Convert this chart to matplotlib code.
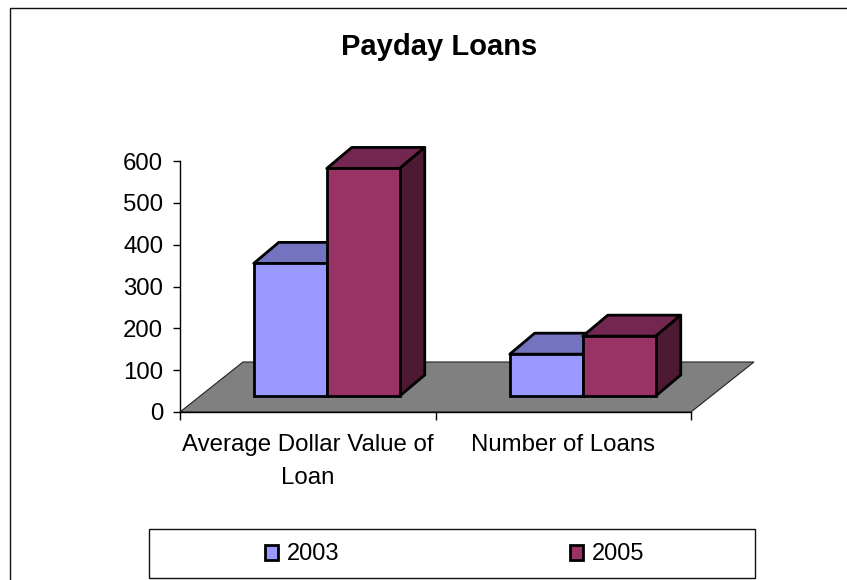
import matplotlib.pyplot as plt
from matplotlib.patches import Polygon, Rectangle

plt.rcParams['font.family'] = ['Liberation Sans', 'DejaVu Sans']

categories = ['Average Dollar Value of\nLoan', 'Number of Loans']
years = ['2003', '2005']
values_2003 = [317, 100]
values_2005 = [544, 143]
y_ticks = [0, 100, 200, 300, 400, 500, 600]

front_colors = ['#9999FF', '#993366']
top_colors = ['#7373BF', '#732650']
side_colors = ['#4D4D80', '#4D1933']

W, H = 847, 580
fig = plt.figure(figsize=(W / 100, H / 100), dpi=100)

# plot area, in pixels from the top left corner
left, right, top, bottom = 180, 691, 161, 412
ax = fig.add_axes([left / W, 1 - bottom / H, (right - left) / W, (bottom - top) / H])
ax.set_xlim(0, 2)
ax.set_ylim(0, 600)
ax.patch.set_visible(False)

# oblique projection: depth expressed in axis units
px_x = 2 / (right - left)
px_y = 600 / (bottom - top)
floor_dx, floor_dy = 63 * px_x, 50 * px_y
bar_dx, bar_dy = 25 * px_x, 21 * px_y
base_dy = 16 * px_y
group_shift = [19 * px_x, 19.5 * px_x]
bar_w = 73 * px_x
edge_lw = 2.0

ax.add_patch(Polygon([(0, 0), (floor_dx, floor_dy), (2 + floor_dx, floor_dy), (2, 0)],
                     closed=True, facecolor='#808080', edgecolor='#222222', lw=0.8,
                     clip_on=False, zorder=1))


def draw_bar(x, value, i, z):
    # x is the left edge of the front face, b the front base height
    b = base_dy
    x2 = x + bar_w
    t = b + value
    ax.bar(x, value, width=bar_w, bottom=b, align='edge', color=front_colors[i],
           edgecolor='black', linewidth=edge_lw, clip_on=False, zorder=z + 1)
    ax.add_patch(Polygon([(x, t), (x + bar_dx, t + bar_dy), (x2 + bar_dx, t + bar_dy), (x2, t)],
                         closed=True, facecolor=top_colors[i], edgecolor='black', lw=edge_lw,
                         joinstyle='round', clip_on=False, zorder=z))
    ax.add_patch(Polygon([(x2, b), (x2 + bar_dx, b + bar_dy), (x2 + bar_dx, t + bar_dy), (x2, t)],
                         closed=True, facecolor=side_colors[i], edgecolor='black', lw=edge_lw,
                         joinstyle='round', clip_on=False, zorder=z))


for c, (v1, v2) in enumerate(zip(values_2003, values_2005)):
    center = c + 0.5 + group_shift[c]
    draw_bar(center - bar_w, v1, 0, 2 + 4 * c)
    draw_bar(center, v2, 1, 4 + 4 * c)

for s in ['top', 'right']:
    ax.spines[s].set_visible(False)
for s in ['left', 'bottom']:
    ax.spines[s].set_linewidth(1.0)
    ax.spines[s].set_zorder(1.5)

ax.set_yticks(y_ticks)
ax.tick_params(axis='y', length=5, width=1, pad=7, labelsize=17.3)
ax.set_xticks([0, 1, 2])
ax.set_xticklabels([])
ax.tick_params(axis='x', which='major', length=6, width=1)
ax.set_xticks([0.5, 1.5], minor=True)
ax.set_xticklabels(categories, minor=True, fontsize=17.3, linespacing=1.65, ha='center')
ax.tick_params(axis='x', which='minor', length=0, pad=16)

# outer chart border runs off the right and bottom edges
fig.add_artist(Rectangle((10 / W, -0.02), 1.02, 1.02 - 8 / H, transform=fig.transFigure,
                         fill=False, edgecolor='#111111', lw=1.0))
fig.text(439 / W, 1 - 47 / H, 'Payday Loans', fontsize=21, fontweight='bold',
         ha='center', va='center')

# legend box
fig.add_artist(Rectangle((149 / W, 1 - 578 / H), 606 / W, 49 / H, transform=fig.transFigure,
                         facecolor='white', edgecolor='#111111', lw=1.0))
for i, (mx, tx) in enumerate([(265, 287), (570, 592)]):
    fig.add_artist(Rectangle((mx / W, 1 - 560 / H), 13 / W, 15 / H, transform=fig.transFigure,
                             facecolor=front_colors[i], edgecolor='black', lw=edge_lw))
    fig.text(tx / W, 1 - 554 / H, years[i], fontsize=17, ha='left', va='center')

fig.savefig('out.png', dpi=100, facecolor='white')
